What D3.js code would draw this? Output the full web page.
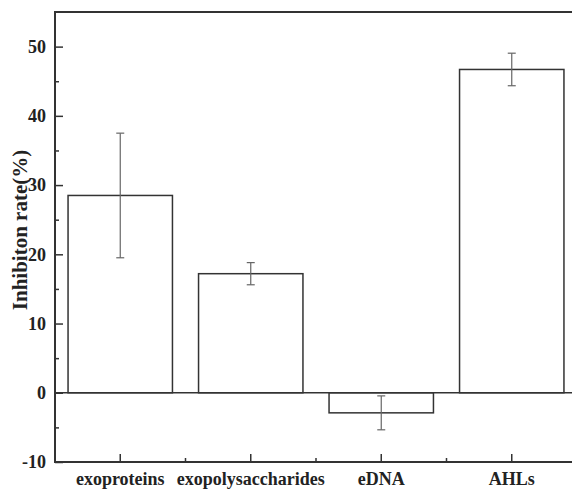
<!DOCTYPE html>
<html><head><meta charset="utf-8">
<script src="https://cdn.jsdelivr.net/npm/d3@7"></script>
<style>body{margin:0;background:#fff}svg{display:block}</style>
</head><body>
<script>
const categories = ["exoproteins","exopolysaccharides","eDNA","AHLs"];
const values = [28.5, 17.2, -2.9, 46.7];
const errors = [9.0, 1.6, 2.45, 2.35];
const yTicks = [-10, 0, 10, 20, 30, 40, 50];
const yMinor = [-5, 5, 15, 25, 35, 45];

const W = 572, H = 492;
const m = {left:55, top:12, right:577, bottom:462};
const svg = d3.select("body").append("svg").attr("width", W).attr("height", H);
const font = "'Liberation Serif','Times New Roman',serif";

const x = d3.scaleBand().domain(categories).range([m.left, m.right]).paddingInner(0.2).paddingOuter(0.1);
const y = d3.scaleLinear().domain([-10, 55]).range([m.bottom, m.top]);

// bars
svg.append("g").selectAll("rect").data(values).join("rect")
  .attr("x", (d,i) => x(categories[i]))
  .attr("width", x.bandwidth())
  .attr("y", d => y(Math.max(0,d)))
  .attr("height", d => Math.abs(y(d) - y(0)))
  .attr("fill", "#fff").attr("stroke", "#333").attr("stroke-width", 1.5);

// zero line
svg.append("line").attr("x1", m.left).attr("x2", m.right).attr("y1", y(0)).attr("y2", y(0))
  .attr("stroke", "#333").attr("stroke-width", 1.5);

// error bars
const eg = svg.append("g").attr("stroke", "#666").attr("stroke-width", 1.2);
values.forEach((v,i) => {
  const cx = x(categories[i]) + x.bandwidth()/2;
  eg.append("line").attr("x1", cx).attr("x2", cx).attr("y1", y(v+errors[i])).attr("y2", y(v-errors[i]));
  [v+errors[i], v-errors[i]].forEach(e => {
    eg.append("line").attr("x1", cx-4).attr("x2", cx+4).attr("y1", y(e)).attr("y2", y(e));
  });
});

// y axis
const yAxis = d3.axisLeft(y).tickValues(yTicks).tickSize(-8).tickPadding(9).tickFormat(d => String(d));
const ya = svg.append("g").attr("transform", `translate(${m.left},0)`).call(yAxis);
ya.select(".domain").remove();
ya.selectAll("line").attr("stroke", "#333").attr("stroke-width", 1.5);
ya.selectAll("text").attr("font-family", font).attr("font-weight", "bold").attr("font-size", 18).attr("fill", "#222");
const yMinorAxis = d3.axisLeft(y).tickValues(yMinor).tickSize(-4).tickFormat("");
const ym = svg.append("g").attr("transform", `translate(${m.left},0)`).call(yMinorAxis);
ym.select(".domain").remove();
ym.selectAll("line").attr("stroke", "#333").attr("stroke-width", 1.5);

// x axis
const xAxis = d3.axisBottom(x).tickSize(-8).tickPadding(10);
const xa = svg.append("g").attr("transform", `translate(0,${m.bottom})`).call(xAxis);
xa.select(".domain").remove();
xa.selectAll("line").attr("stroke", "#333").attr("stroke-width", 1.5);
xa.selectAll("text").attr("font-family", font).attr("font-weight", "bold").attr("font-size", 18).attr("fill", "#222");
// minor x ticks between categories
const step = x.step();
const xm = svg.append("g");
categories.slice(1).forEach(c => {
  const xx = x(c) - (step - x.bandwidth())/2;
  xm.append("line").attr("x1", xx).attr("x2", xx).attr("y1", m.bottom).attr("y2", m.bottom-4)
    .attr("stroke", "#333").attr("stroke-width", 1.5);
});

// frame
svg.append("rect").attr("x", m.left).attr("y", m.top).attr("width", m.right-m.left).attr("height", m.bottom-m.top)
  .attr("fill", "none").attr("stroke", "#333").attr("stroke-width", 2);

// y label
svg.append("text").attr("transform", `translate(27,230) rotate(-90)`)
  .attr("text-anchor", "middle").attr("font-family", font).attr("font-weight", "bold").attr("font-size", 21)
  .attr("fill", "#222").text("Inhibiton rate(%)");
</script>
</body></html>
